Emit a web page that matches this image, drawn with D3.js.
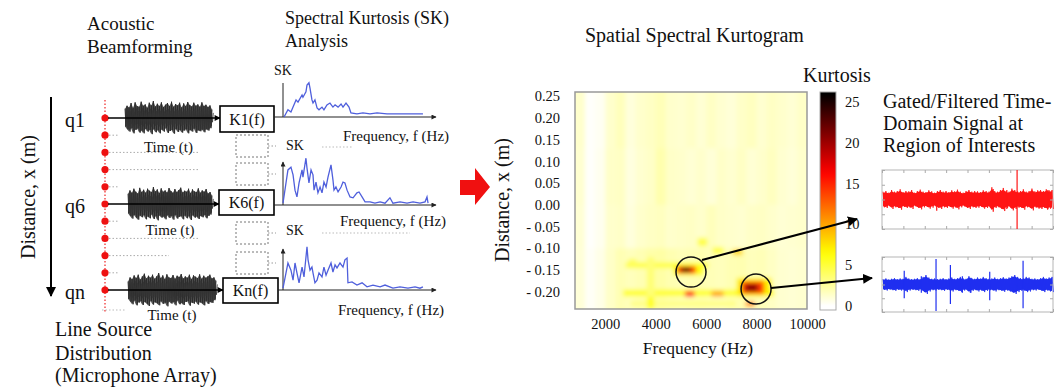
<!DOCTYPE html>
<html>
<head>
<meta charset="UTF-8">
<title>Spatial Spectral Kurtogram</title>
<script src="https://d3js.org/d3.v7.min.js"></script>
<style>
  body { margin: 0; background: #fff; }
  text { font-family: "Liberation Serif", "Times New Roman", serif; fill: #111; }
</style>
</head>
<body>
<svg id="chart"></svg>
<script>
// ---- data ----
const mics = [1, 2, 3, 4, 5, 6, 7, 8, 9, 10, 11];
const channels = [
  {mic: 1,  label: "q1", box: "K1(f)"},
  {mic: 6,  label: "q6", box: "K6(f)"},
  {mic: 11, label: "qn", box: "Kn(f)"}
];

// beamformed time signals: upper / lower envelope (normalised)
const w1Top = [0.55,0.72,0.62,0.88,0.6,0.92,0.7,0.66,0.96,0.72,0.8,0.6,0.9,0.74,1.0,0.68,0.84,0.7,0.92,0.64,0.78,0.88,0.7,0.96,0.66,0.82,0.74,0.9,0.62,0.86,0.7,0.94,0.76,0.68,0.9,0.72,0.8,0.66,0.92,0.7,0.78,0.64,0.74,0.5];
const w1Bot = [0.5,0.66,0.8,0.6,0.9,0.7,0.62,0.86,0.74,0.9,0.64,0.8,0.7,0.95,0.66,0.84,0.72,0.9,0.68,0.8,0.6,0.88,0.76,0.7,0.92,0.64,0.82,0.7,0.86,0.74,0.66,0.9,0.7,0.8,0.62,0.88,0.72,0.78,0.68,0.84,0.66,0.74,0.6,0.45];
const w6Top = [0.6,0.8,0.66,0.9,0.72,0.62,0.95,0.7,0.84,0.66,0.9,0.78,0.7,1.0,0.74,0.86,0.64,0.92,0.72,0.8,0.68,0.94,0.76,0.66,0.88,0.7,0.82,0.96,0.68,0.78,0.72,0.9,0.64,0.86,0.74,0.7,0.92,0.66,0.8,0.72,0.88,0.62,0.7,0.5];
const w6Bot = [0.55,0.7,0.86,0.64,0.8,0.92,0.68,0.78,0.66,0.9,0.74,0.84,0.62,0.88,0.72,0.96,0.68,0.8,0.74,0.9,0.66,0.82,0.7,0.92,0.64,0.86,0.76,0.7,0.9,0.68,0.84,0.72,0.94,0.66,0.8,0.74,0.88,0.7,0.78,0.64,0.84,0.7,0.62,0.48];
const wnTop = [0.5,0.74,0.64,0.86,0.7,0.9,0.62,0.8,0.96,0.68,0.84,0.72,0.9,0.66,0.8,1.0,0.7,0.86,0.64,0.92,0.74,0.7,0.88,0.66,0.84,0.76,0.94,0.68,0.8,0.72,0.9,0.64,0.86,0.78,0.7,0.92,0.66,0.84,0.72,0.8,0.9,0.68,0.74,0.55];
const wnBot = [0.52,0.68,0.84,0.62,0.9,0.74,0.66,0.88,0.7,0.8,0.94,0.64,0.86,0.72,0.78,0.9,0.66,0.82,0.74,0.96,0.68,0.8,0.7,0.9,0.62,0.84,0.76,0.88,0.7,0.66,0.92,0.74,0.8,0.68,0.86,0.72,0.78,0.9,0.64,0.82,0.7,0.76,0.6,0.5];

// spectral kurtosis curves [frequency 0-100, SK]
const sk1 = [[0.7,0],[3.3,1.6],[5.3,1.1],[6.7,2.2],[8.7,3.8],[10,3.3],[12.7,4.9],[13.3,4.4],[15.3,5.6],[16,7.1],[17.3,7.6],[18,6.4],[19.3,3.8],[20,3.1],[21.3,3.8],[22.7,2.0],[24,1.6],[26,2.2],[27.3,1.6],[29.3,2.7],[31.3,3.1],[33.3,2.2],[34.7,2.7],[36.7,2.2],[38.7,2.9],[40,2.2],[42,3.1],[44,2.2],[45.3,0.9],[49.3,0.7],[53.3,0.9],[58,0.7],[62.7,0.9],[69.3,0.7],[80,0.7],[93.3,0.7]];
const sk6 = [[0,0.4],[2,4.9],[3.3,7.8],[5.3,8.4],[6.7,6.7],[8,3.3],[9.3,1.8],[10.7,4.9],[12.7,7.8],[13.3,6.2],[15.3,10.4],[16,8.2],[17.3,4.9],[18.7,7.8],[20,6.7],[20.7,3.3],[22,5.1],[23.3,2.7],[24.7,4.0],[26,2.7],[27.3,5.1],[28.7,4.0],[30,6.2],[32,8.9],[33.3,5.6],[34,3.3],[35.3,4.0],[36.7,2.9],[38.7,4.0],[40,5.1],[41.3,4.9],[42.7,3.3],[44.7,1.8],[46.7,1.6],[49.3,2.7],[50.7,2.9],[52.7,1.8],[54.7,0.7],[58,0.7],[61.3,0.4],[64.7,0.7],[68,0.4],[71.3,1.6],[73.3,0.4],[78,0.7],[82.7,0.4],[86.7,0.7],[91.3,0.4],[94.7,0.7],[96,1.8],[96.7,0.4]];
const skn = [[0,0.4],[2,3.8],[3.3,6.0],[5.3,4.4],[6.7,2.2],[8,6.0],[9.3,3.8],[10.7,1.6],[12.7,5.1],[14,2.9],[16,9.6],[16.7,6.7],[18,4.4],[19.3,5.1],[20,3.8],[21.3,1.6],[22.7,2.2],[24,3.8],[26,2.9],[27.3,5.1],[28.7,3.3],[30,4.4],[32,6.0],[33.3,4.0],[34.7,5.6],[36,4.9],[38,6.0],[40,5.1],[41.3,6.7],[42.7,7.1],[43.3,1.6],[46,1.8],[49.3,1.1],[52.7,1.6],[56,0.7],[60,1.1],[64.7,0.7],[68,1.1],[73.3,0.4],[78,0.7],[83.3,0.4],[88,0.7],[91.3,0.4],[93.3,0.7]];

// kurtogram: background bins
const freqEdges = [800,1200,1600,2000,2400,2800,3200,3600,4000,4400,4800,5200,5600,6000,6400,6800,7200,7600,8000,8400,8800,9200,9600,10000];
const distEdges = [0.26, 0.13, 0.0, -0.10, -0.24];
const bgKurt = [
  [1.3,0.1,0.3,1.3,1.7,0.9,1.3,1.5,1.8,1.3,1.2,1.4,1.1,1.5,1.2,1.0,1.4,1.6,1.2,1.5,1.3,1.1,1.4],
  [1.2,0.1,0.4,1.4,1.5,0.8,1.2,1.4,2.1,1.4,1.3,1.1,1.3,1.0,1.4,1.2,1.5,1.1,1.3,1.6,1.2,1.0,1.3],
  [1.1,0.1,0.4,1.3,1.4,0.9,1.3,1.5,1.6,1.3,1.4,1.5,1.3,1.7,1.4,1.3,1.2,1.4,1.5,1.3,1.1,1.2,1.3],
  [1.0,0.2,0.6,1.4,1.9,1.7,1.9,2.2,2.3,2.0,1.8,1.9,2.0,1.8,1.7,1.9,2.0,1.7,1.8,1.5,1.2,1.1,1.2]
];
// kurtogram: local features [f0, f1, d0, d1, kurtosis]
const kurtPatches = [
  [2700, 8700, -0.211, -0.195, 5],
  [2800, 6100, -0.146, -0.132, 4.5],
  [3000, 7200, -0.234, -0.221, 3],
  [3650, 3950, -0.240, -0.120, 3.5],
  [3650, 3950, -0.240, -0.212, 5.5],
  [2900, 3250, -0.138, -0.124, 4],
  [5650, 6050, -0.096, -0.076, 4.5],
  [6250, 6700, -0.113, -0.097, 4.5],
  [7050, 7450, -0.116, -0.102, 8],
  [4700, 5900, -0.163, -0.137, 6],
  [7200, 8600, -0.212, -0.168, 7],
  [6200, 6700, -0.211, -0.199, 10],
  [5150, 5550, -0.211, -0.199, 16],
  [7550, 7950, -0.234, -0.223, 11],
  [7400, 8300, -0.205, -0.176, 14],
  [7550, 8050, -0.199, -0.183, 21],
  [4850, 5600, -0.158, -0.141, 14],
  [5000, 5400, -0.155, -0.145, 25]
];
const circled = [[5400, -0.155], [7980, -0.194]];
const freqTicks = [2000, 4000, 6000, 8000, 10000];
const distTicks = [0.25, 0.20, 0.15, 0.10, 0.05, 0.00, -0.05, -0.10, -0.15, -0.20];
const kurtTicks = [0, 5, 10, 15, 20, 25];

// gated signals: envelope + isolated spikes [position 0-1, up, down]
const redEnv = [0.23,0.25,0.2,0.28,0.23,0.25,0.3,0.22,0.25,0.24,0.28,0.2,0.25,0.29,0.23,0.22,0.27,0.24,0.2,0.25,0.28,0.23,0.25,0.22,0.27,0.24,0.29,0.23,0.2,0.25,0.28,0.23,0.25,0.24,0.22,0.27,0.25,0.23,0.36,0.25,0.23,0.28,0.34,0.25,0.23,0.32,0.28,0.24,0.25,0.3,0.23,0.25,0.32,0.24,0.27,0.28,0.25,0.3,0.27,0.28];
const redSpikes = [[0.32,0.1,0.38],[0.65,0.36,0.2],[0.73,0.32,0.32],[0.79,1.0,1.0],[0.97,0.32,0.32]];
const blueEnv = [0.17,0.19,0.16,0.18,0.2,0.17,0.19,0.18,0.24,0.19,0.17,0.18,0.2,0.17,0.24,0.3,0.22,0.18,0.19,0.17,0.18,0.2,0.17,0.19,0.22,0.18,0.2,0.24,0.19,0.18,0.26,0.2,0.18,0.22,0.19,0.24,0.2,0.18,0.19,0.22,0.18,0.2,0.23,0.19,0.22,0.26,0.3,0.24,0.2,0.19,0.24,0.22,0.18,0.19,0.17,0.2,0.24,0.19,0.22,0.24];
const blueSpikes = [[0.13,0.5,0.5],[0.23,0.3,0.3],[0.316,0.93,0.96],[0.40,0.71,0.71],[0.47,0.3,0.3],[0.52,0.25,0.3],[0.63,0.46,0.57],[0.825,0.86,0.86]];

// ---- drawing ----
const width = 1062, height = 387;
const svg = d3.select("#chart").attr("width", width).attr("height", height);
const defs = svg.append("defs");

function addMarker(id, w, h, color) {
  defs.append("marker").attr("id", id)
    .attr("viewBox", "0 0 10 10").attr("refX", 9).attr("refY", 5)
    .attr("markerUnits", "userSpaceOnUse")
    .attr("markerWidth", w).attr("markerHeight", h).attr("orient", "auto")
    .append("path").attr("d", "M0,0L10,5L0,10z").attr("fill", color);
}
addMarker("arrBig", 10, 10, "#000");
addMarker("arrSmall", 7, 6, "#000");
addMarker("arrTiny", 6, 5, "#222");

function label(x, y, txt, size, anchor) {
  return svg.append("text").attr("x", x).attr("y", y)
    .attr("font-size", size + "px").attr("text-anchor", anchor || "start").text(txt);
}

// titles
label(87, 30, "Acoustic", 19);
label(87, 53, "Beamforming", 19);
label(285, 24, "Spectral Kurtosis (SK)", 18);
label(285, 47, "Analysis", 18);
label(585, 42, "Spatial Spectral Kurtogram", 20);
label(55, 336, "Line Source", 20);
label(55, 360, "Distribution", 20);
label(55, 382, "(Microphone Array)", 20);

// distance arrow
svg.append("line").attr("x1", 51).attr("y1", 97).attr("x2", 51).attr("y2", 296)
  .attr("stroke", "#000").attr("stroke-width", 2).attr("marker-end", "url(#arrBig)");
svg.append("text").attr("transform", "translate(35,197) rotate(-90)")
  .attr("font-size", "20px").attr("text-anchor", "middle").text("Distance, x (m)");

// microphone line
const micY = d3.scaleLinear().domain([1, 11]).range([118, 290]);
const micX = 105;
svg.append("line").attr("x1", micX).attr("x2", micX).attr("y1", 100).attr("y2", 312)
  .attr("stroke", "#e22").attr("stroke-width", 1.2).attr("stroke-dasharray", "1.5,2");

// dotted leader lines from idle microphones
const leaderLen = {2: 10, 3: 90, 4: 90, 5: 10, 7: 10, 8: 90, 9: 60, 10: 10};
svg.selectAll(".leader").data(mics.filter(m => leaderLen[m])).join("line")
  .attr("class", "leader")
  .attr("x1", micX + 4).attr("x2", m => micX + 4 + leaderLen[m])
  .attr("y1", m => micY(m)).attr("y2", m => micY(m))
  .attr("stroke", "#aaa").attr("stroke-width", 1).attr("stroke-dasharray", "1.5,2");
svg.append("line").attr("x1", 102).attr("x2", 126).attr("y1", 310).attr("y2", 310)
  .attr("stroke", "#bbb").attr("stroke-dasharray", "1.5,2");

svg.selectAll(".mic").data(mics).join("circle")
  .attr("class", "mic").attr("cx", micX).attr("cy", d => micY(d)).attr("r", 3.6)
  .attr("fill", "#ee1111");

// time waveforms
const waves = [
  {mic: 1, top: w1Top, bot: w1Bot, x0: 125, x1: 212},
  {mic: 6, top: w6Top, bot: w6Bot, x0: 128, x1: 212},
  {mic: 11, top: wnTop, bot: wnBot, x0: 128, x1: 216}
];
const boxes = [
  {mic: 1, x0: 220, x1: 274, y0: 106, y1: 132},
  {mic: 6, x0: 219, x1: 274, y0: 190, y1: 215},
  {mic: 11, x0: 223, x1: 278, y0: 278, y1: 303}
];
const timeY = [152, 235, 320];

waves.forEach((w, i) => {
  const cy = micY(w.mic);
  const xs = d3.scaleLinear().domain([0, w.top.length - 1]).range([w.x0, w.x1]);
  const amp = d3.scaleLinear().domain([0, 1]).range([0, 17]);
  const area = d3.area().x((d, j) => xs(j)).y0((d, j) => cy + amp(w.bot[j])).y1(d => cy - amp(d));
  svg.append("path").attr("d", area(w.top)).attr("fill", "#555");
  const zz = [];
  w.top.forEach((d, j) => {
    zz.push([xs(j), cy - amp(d)]);
    if (j < w.top.length - 1) zz.push([(xs(j) + xs(j + 1)) / 2, cy + amp(w.bot[j])]);
  });
  svg.append("path").attr("d", d3.line()(zz)).attr("fill", "none")
    .attr("stroke", "#2a2a2a").attr("stroke-width", 0.9);
  const zz2 = [];
  w.top.forEach((d, j) => {
    zz2.push([xs(j) + 0.5, cy + amp(w.bot[j]) * 0.55]);
    zz2.push([xs(j) + 1.3, cy - amp(d) * 0.6]);
  });
  svg.append("path").attr("d", d3.line()(zz2)).attr("fill", "none")
    .attr("stroke", "#333").attr("stroke-width", 0.8);

  const b = boxes[i];
  svg.append("line").attr("x1", micX + 3).attr("x2", b.x0).attr("y1", cy).attr("y2", cy)
    .attr("stroke", "#000").attr("stroke-width", 1.3).attr("marker-end", "url(#arrSmall)");
  label((w.x0 + w.x1) / 2, timeY[i], "Time (t)", 15, "middle");
  label(65, cy + 9, channels[i].label, 20);
});

// kurtosis boxes
boxes.forEach((b, i) => {
  svg.append("rect").attr("x", b.x0).attr("y", b.y0)
    .attr("width", b.x1 - b.x0).attr("height", b.y1 - b.y0)
    .attr("fill", "#fff").attr("stroke", "#000").attr("stroke-width", 1.6);
  label((b.x0 + b.x1) / 2, (b.y0 + b.y1) / 2 + 5.5, channels[i].box, 16, "middle");
});
// dashed placeholder boxes
const dashed = [[135, 157], [163, 185], [222, 244], [252, 274]];
dashed.forEach(d => {
  svg.append("rect").attr("x", 236).attr("y", d[0]).attr("width", 32).attr("height", d[1] - d[0])
    .attr("fill", "none").attr("stroke", "#777").attr("stroke-width", 1).attr("stroke-dasharray", "2,2");
  svg.append("line").attr("x1", 268).attr("x2", 276).attr("y1", (d[0] + d[1]) / 2).attr("y2", (d[0] + d[1]) / 2)
    .attr("stroke", "#999").attr("stroke-dasharray", "1.5,2");
});
svg.append("line").attr("x1", 322).attr("x2", 352).attr("y1", 147).attr("y2", 147)
  .attr("stroke", "#bbb").attr("stroke-dasharray", "1.5,2");
svg.append("line").attr("x1", 322).attr("x2", 410).attr("y1", 233).attr("y2", 233)
  .attr("stroke", "#bbb").attr("stroke-dasharray", "1.5,2");

// SK plots
const skPlots = [
  {data: sk1, base: 117, top: 83, arrow: false, skX: 274, skY: 75, fx: 343, fy: 141, from: 274},
  {data: sk6, base: 205, top: 162, arrow: true, skX: 286, skY: 150, fx: 340, fy: 226, from: 274},
  {data: skn, base: 290, top: 249, arrow: true, skX: 286, skY: 235, fx: 338, fy: 315, from: 278}
];
const skx = d3.scaleLinear().domain([0, 100]).range([283, 433]);
skPlots.forEach(p => {
  const sky = d3.scaleLinear().domain([0, 10]).range([p.base, p.base - 45]);
  svg.append("line").attr("x1", p.from).attr("x2", 436).attr("y1", p.base).attr("y2", p.base)
    .attr("stroke", "#222").attr("stroke-width", 1.2).attr("marker-end", "url(#arrTiny)");
  svg.append("line").attr("x1", skx(0)).attr("x2", skx(0)).attr("y1", p.base).attr("y2", p.top)
    .attr("stroke", "#222").attr("stroke-width", 1)
    .attr("marker-end", p.arrow ? "url(#arrTiny)" : null);
  svg.append("path").attr("d", d3.line().x(d => skx(d[0])).y(d => sky(d[1]))(p.data))
    .attr("fill", "none").attr("stroke", "#4f5fdc").attr("stroke-width", 1.3);
  label(p.skX, p.skY, "SK", 14);
  label(p.fx, p.fy, "Frequency,  f (Hz)", 15);
});

// red arrow
svg.append("path").attr("d", "M460,180L475,180L475,168L490,187L475,205L475,195L460,195Z")
  .attr("fill", "#f01010");

// kurtogram
const kx = d3.scaleLinear().domain([800, 10000]).range([575, 807]);
const ky = d3.scaleLinear().domain([-0.24, 0.26]).range([309, 92]);
const kColor = d3.scaleLinear().domain([0, 6.5, 16.3, 26])
  .range(["#ffffff", "#ffff00", "#ff0000", "#000000"]).clamp(true);

defs.append("clipPath").attr("id", "kclip").append("rect")
  .attr("x", kx(800)).attr("y", ky(0.26)).attr("width", kx(10000) - kx(800)).attr("height", ky(-0.24) - ky(0.26));
defs.append("filter").attr("id", "kblur").attr("x", "-5%").attr("y", "-5%").attr("width", "110%").attr("height", "110%")
  .append("feGaussianBlur").attr("stdDeviation", "2.2");

const kg = svg.append("g").attr("clip-path", "url(#kclip)").append("g").attr("filter", "url(#kblur)");
const cells = [];
bgKurt.forEach((row, r) => row.forEach((v, c) => cells.push({f0: freqEdges[c], f1: freqEdges[c + 1], d0: distEdges[r + 1], d1: distEdges[r], v})));
// pad the edges so blur does not fade at the frame
cells.forEach(c => {
  if (c.f0 === 800) c.f0 = 400;
  if (c.f1 === 10000) c.f1 = 10400;
  if (c.d1 === 0.26) c.d1 = 0.3;
  if (c.d0 === -0.24) c.d0 = -0.28;
});
kg.selectAll(".cell").data(cells).join("rect").attr("class", "cell")
  .attr("x", d => kx(d.f0)).attr("width", d => kx(d.f1) - kx(d.f0) + 0.5)
  .attr("y", d => ky(d.d1)).attr("height", d => ky(d.d0) - ky(d.d1) + 0.5)
  .attr("fill", d => kColor(d.v));
kg.selectAll(".patch").data(kurtPatches).join("rect").attr("class", "patch")
  .attr("x", d => kx(d[0])).attr("width", d => kx(d[1]) - kx(d[0]))
  .attr("y", d => ky(d[3])).attr("height", d => ky(d[2]) - ky(d[3]))
  .attr("rx", 2)
  .attr("fill", d => kColor(d[4]));

svg.append("rect").attr("x", kx(800)).attr("y", ky(0.26))
  .attr("width", kx(10000) - kx(800)).attr("height", ky(-0.24) - ky(0.26))
  .attr("fill", "none").attr("stroke", "#999").attr("stroke-width", 1.5);

const xAxis = svg.append("g").attr("transform", `translate(0,${ky(-0.24)})`)
  .call(d3.axisBottom(kx).tickValues(freqTicks).tickSize(0).tickPadding(10).tickFormat(d3.format("d")));
const yAxis = svg.append("g").attr("transform", `translate(${kx(800)},0)`)
  .call(d3.axisLeft(ky).tickValues(distTicks).tickSize(0).tickPadding(15)
    .tickFormat(d => d < -0.001 ? "- " + (-d).toFixed(2) : Math.abs(d).toFixed(2)));
[xAxis, yAxis].forEach(a => {
  a.select(".domain").remove();
  a.selectAll("text").attr("font-size", "14.5px").attr("font-family", '"Liberation Serif", serif').attr("fill", "#111");
});
label(698, 354, "Frequency  (Hz)", 17.5, "middle");
svg.append("text").attr("transform", "translate(509,200) rotate(-90)")
  .attr("font-size", "20px").attr("text-anchor", "middle").text("Distance, x (m)");

// colorbar
const cb = d3.scaleLinear().domain([-0.5, 26.2]).range([310, 92]);
const grad = defs.append("linearGradient").attr("id", "kgrad")
  .attr("x1", 0).attr("x2", 0).attr("y1", 1).attr("y2", 0);
d3.range(0, 27, 1).forEach(v => grad.append("stop")
  .attr("offset", (v + 0.5) / 26.7).attr("stop-color", kColor(v)));
svg.append("rect").attr("x", 820).attr("y", cb(26.2)).attr("width", 16).attr("height", cb(-0.5) - cb(26.2))
  .attr("fill", "url(#kgrad)").attr("stroke", "#aaa").attr("stroke-width", 1);
const cAxis = svg.append("g").attr("transform", "translate(836,0)")
  .call(d3.axisRight(cb).tickValues(kurtTicks).tickSize(0).tickPadding(9));
cAxis.select(".domain").remove();
cAxis.selectAll("text").attr("font-size", "14.5px").attr("font-family", '"Liberation Serif", serif').attr("fill", "#111");
label(803, 82, "Kurtosis", 20);

// circles + arrows
svg.selectAll(".roi").data(circled).join("circle").attr("class", "roi")
  .attr("cx", d => kx(d[0])).attr("cy", d => ky(d[1])).attr("r", 15)
  .attr("fill", "none").attr("stroke", "#111").attr("stroke-width", 1.5);
svg.append("line").attr("x1", 702).attr("y1", 260).attr("x2", 857).attr("y2", 219)
  .attr("stroke", "#000").attr("stroke-width", 2).attr("marker-end", "url(#arrBig)");
svg.append("line").attr("x1", 771).attr("y1", 288).attr("x2", 872).attr("y2", 278)
  .attr("stroke", "#000").attr("stroke-width", 2).attr("marker-end", "url(#arrBig)");

// gated signals
label(883, 108, "Gated/Filtered Time-", 20);
label(883, 130, "Domain Signal at", 20);
label(883, 152, "Region of Interests", 20);

const sigs = [
  {env: redEnv, spikes: redSpikes, y0: 170, y1: 229, color: "#ff1414"},
  {env: blueEnv, spikes: blueSpikes, y0: 257, y1: 312, color: "#1f2ff0"}
];
sigs.forEach(s => {
  const g = svg.append("g");
  const sx = d3.scaleLinear().domain([0, 1]).range([882, 1053]);
  const cy = (s.y0 + s.y1) / 2, half = (s.y1 - s.y0) / 2;
  const sa = d3.scaleLinear().domain([0, 1]).range([0, half]);
  g.append("rect").attr("x", 882).attr("y", s.y0).attr("width", 171).attr("height", s.y1 - s.y0)
    .attr("fill", "#fff").attr("stroke", "#b5b5b5").attr("stroke-width", 1);
  const ix = d3.scaleLinear().domain([0, s.env.length - 1]).range([883, 1052]);
  g.append("path").attr("d", d3.area().x((d, j) => ix(j)).y0(d => cy + sa(d)).y1(d => cy - sa(d))(s.env))
    .attr("fill", s.color);
  const zz = [];
  s.env.forEach((d, j) => { zz.push([ix(j), cy - sa(d) * 1.15]); zz.push([ix(j) + 1.4, cy + sa(d) * 1.15]); });
  g.append("path").attr("d", d3.line()(zz)).attr("fill", "none").attr("stroke", s.color).attr("stroke-width", 0.8);
  g.selectAll(".spk").data(s.spikes).join("line")
    .attr("x1", d => sx(d[0])).attr("x2", d => sx(d[0]))
    .attr("y1", d => cy - sa(d[1])).attr("y2", d => cy + sa(d[2]))
    .attr("stroke", s.color).attr("stroke-width", 1.2);
  // frame ticks
  const tx = d3.scaleLinear().domain([0, 8]).range([882, 1053]);
  const ty = d3.scaleLinear().domain([0, 4]).range([s.y0, s.y1]);
  [s.y0, s.y1].forEach((yy, k) => g.append("g").attr("transform", `translate(0,${yy})`)
    .call((k ? d3.axisBottom(tx) : d3.axisTop(tx)).ticks(8).tickSize(-3).tickFormat(""))
    .call(a => { a.select(".domain").remove(); a.selectAll("line").attr("stroke", "#aaa"); }));
  [882, 1053].forEach((xx, k) => g.append("g").attr("transform", `translate(${xx},0)`)
    .call((k ? d3.axisRight(ty) : d3.axisLeft(ty)).ticks(4).tickSize(-3).tickFormat(""))
    .call(a => { a.select(".domain").remove(); a.selectAll("line").attr("stroke", "#aaa"); }));
});
</script>
</body>
</html>
